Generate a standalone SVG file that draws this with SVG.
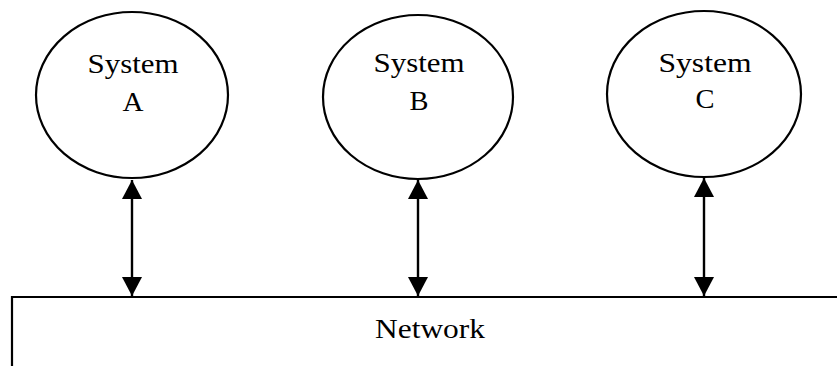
<svg xmlns="http://www.w3.org/2000/svg" width="837" height="366" viewBox="0 0 837 366">
<defs>
<style>
.node ellipse{fill:none;stroke:#000;stroke-width:2.2}
text{font-family:"Liberation Serif","Times New Roman",serif;font-size:27px;fill:#000;text-anchor:middle}
.conn line{stroke:#000;stroke-width:2.4}
.net{fill:none;stroke:#000;stroke-width:2.2}
</style>
<marker id="ah" markerWidth="21" markerHeight="20" refX="20" refY="10.5" orient="auto-start-reverse" markerUnits="userSpaceOnUse" viewBox="0 0 20 21">
<path d="M0,0 L20,10.5 L0,21 Z" fill="#000"/>
</marker>
</defs>
<rect width="837" height="366" fill="#fff"/>
<g id="systemA" class="node">
<ellipse cx="132" cy="95" rx="96" ry="83"/>
<text x="133" y="73" textLength="91" lengthAdjust="spacingAndGlyphs">System</text>
<text x="133" y="111" textLength="21" lengthAdjust="spacingAndGlyphs">A</text>
</g>
<g id="systemB" class="node">
<ellipse cx="418" cy="97" rx="95" ry="82"/>
<text x="419" y="72" textLength="91" lengthAdjust="spacingAndGlyphs">System</text>
<text x="419" y="110" textLength="19" lengthAdjust="spacingAndGlyphs">B</text>
</g>
<g id="systemC" class="node">
<ellipse cx="704" cy="94" rx="97" ry="83"/>
<text x="705" y="72" textLength="93" lengthAdjust="spacingAndGlyphs">System</text>
<text x="705" y="108" textLength="19" lengthAdjust="spacingAndGlyphs">C</text>
</g>
<g id="network">
<path class="net" d="M12,366 L12,297 L837,297"/>
<text x="430" y="338" font-size="28" textLength="110" lengthAdjust="spacingAndGlyphs">Network</text>
</g>
<g id="connectors" class="conn">
<line x1="132" y1="180" x2="132" y2="296" marker-start="url(#ah)" marker-end="url(#ah)"/>
<line x1="418" y1="180" x2="418" y2="296" marker-start="url(#ah)" marker-end="url(#ah)"/>
<line x1="704" y1="178" x2="704" y2="296" marker-start="url(#ah)" marker-end="url(#ah)"/>
</g>
</svg>
